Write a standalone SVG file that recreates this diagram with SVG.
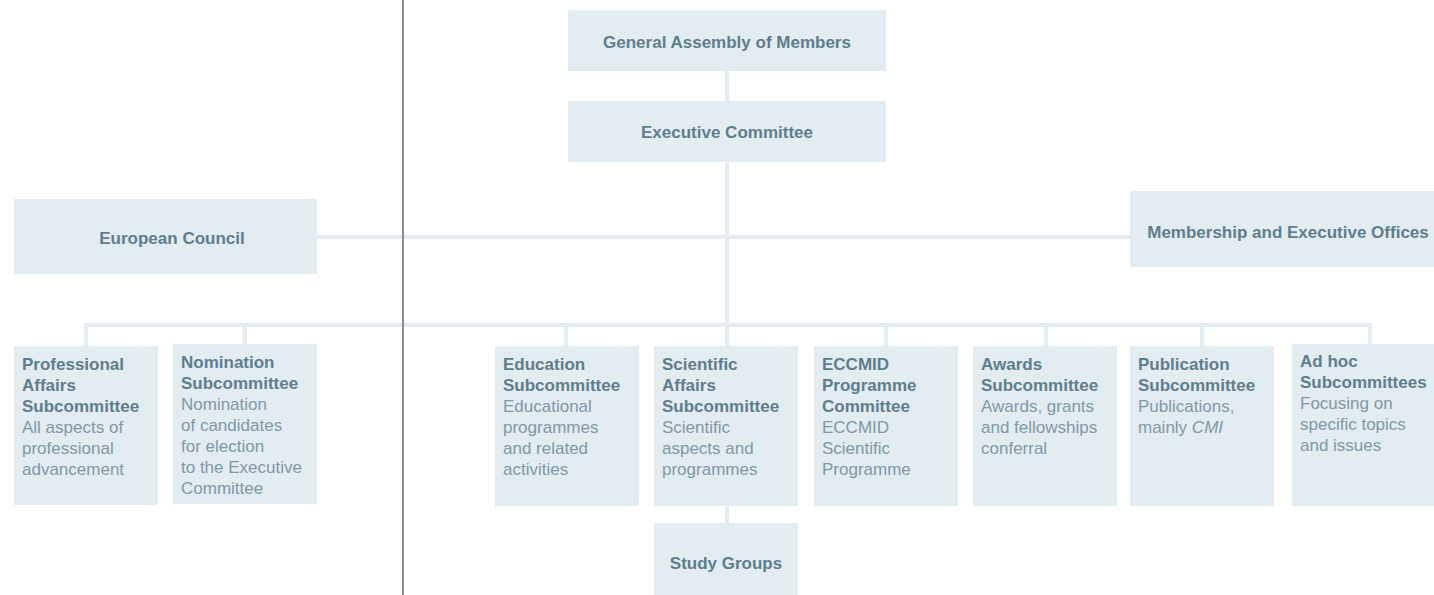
<svg xmlns="http://www.w3.org/2000/svg" width="1434" height="595" viewBox="0 0 1434 595">
<style>
.box{fill:#e3ecf1}
.ln{stroke:#e3ecf1;stroke-width:4;fill:none}
.div{stroke:#8c8c8c;stroke-width:2}
text{font-family:"Liberation Sans",Arial,sans-serif;font-size:17px}
.t{font-weight:bold;fill:#5e7e8d}
.c{text-anchor:middle}
.d{fill:#7f99a6}
</style>
<rect width="1434" height="595" fill="#ffffff"/>
<g id="connectors">
<line class="ln" x1="727" y1="71" x2="727" y2="101"/>
<line class="ln" x1="727" y1="162" x2="727" y2="325"/>
<line class="ln" x1="317" y1="237" x2="1130" y2="237"/>
<line class="ln" x1="84" y1="325" x2="1372" y2="325"/>
<line class="ln" x1="86" y1="323" x2="86" y2="346"/>
<line class="ln" x1="245" y1="323" x2="245" y2="344"/>
<line class="ln" x1="566" y1="323" x2="566" y2="346"/>
<line class="ln" x1="727" y1="323" x2="727" y2="346"/>
<line class="ln" x1="886" y1="323" x2="886" y2="346"/>
<line class="ln" x1="1046" y1="323" x2="1046" y2="346"/>
<line class="ln" x1="1202" y1="323" x2="1202" y2="346"/>
<line class="ln" x1="1370" y1="323" x2="1370" y2="344"/>
<line class="ln" x1="727" y1="506" x2="727" y2="523"/>
</g>
<line class="div" x1="403" y1="0" x2="403" y2="595"/>
<g id="general-assembly">
<rect class="box" x="568" y="10" width="318" height="61"/>
<text class="t c" x="727" y="48">General Assembly of Members</text>
</g>
<g id="executive-committee">
<rect class="box" x="568" y="101" width="318" height="61"/>
<text class="t c" x="727" y="138">Executive Committee</text>
</g>
<g id="european-council">
<rect class="box" x="14" y="199" width="303" height="75"/>
<text class="t c" x="172" y="244">European Council</text>
</g>
<g id="membership">
<rect class="box" x="1130" y="191" width="304" height="76"/>
<text class="t c" x="1288" y="238">Membership and Executive Offices</text>
</g>
<g id="professional-affairs">
<rect class="box" x="14" y="346" width="144" height="159"/>
<text x="22" y="370"><tspan class="t">Professional</tspan><tspan class="t" x="22" dy="21">Affairs</tspan><tspan class="t" x="22" dy="21">Subcommittee</tspan><tspan class="d" x="22" dy="21">All aspects of</tspan><tspan class="d" x="22" dy="21">professional</tspan><tspan class="d" x="22" dy="21">advancement</tspan></text>
</g>
<g id="nomination">
<rect class="box" x="173" y="344" width="144" height="160"/>
<text x="181" y="368"><tspan class="t">Nomination</tspan><tspan class="t" x="181" dy="21">Subcommittee</tspan><tspan class="d" x="181" dy="21">Nomination</tspan><tspan class="d" x="181" dy="21">of candidates</tspan><tspan class="d" x="181" dy="21">for election</tspan><tspan class="d" x="181" dy="21">to the Executive</tspan><tspan class="d" x="181" dy="21">Committee</tspan></text>
</g>
<g id="education">
<rect class="box" x="495" y="346" width="144" height="160"/>
<text x="503" y="370"><tspan class="t">Education</tspan><tspan class="t" x="503" dy="21">Subcommittee</tspan><tspan class="d" x="503" dy="21">Educational</tspan><tspan class="d" x="503" dy="21">programmes</tspan><tspan class="d" x="503" dy="21">and related</tspan><tspan class="d" x="503" dy="21">activities</tspan></text>
</g>
<g id="scientific-affairs">
<rect class="box" x="654" y="346" width="144" height="160"/>
<text x="662" y="370"><tspan class="t">Scientific</tspan><tspan class="t" x="662" dy="21">Affairs</tspan><tspan class="t" x="662" dy="21">Subcommittee</tspan><tspan class="d" x="662" dy="21">Scientific</tspan><tspan class="d" x="662" dy="21">aspects and</tspan><tspan class="d" x="662" dy="21">programmes</tspan></text>
</g>
<g id="eccmid">
<rect class="box" x="814" y="346" width="144" height="160"/>
<text x="822" y="370"><tspan class="t">ECCMID</tspan><tspan class="t" x="822" dy="21">Programme</tspan><tspan class="t" x="822" dy="21">Committee</tspan><tspan class="d" x="822" dy="21">ECCMID</tspan><tspan class="d" x="822" dy="21">Scientific</tspan><tspan class="d" x="822" dy="21">Programme</tspan></text>
</g>
<g id="awards">
<rect class="box" x="973" y="346" width="144" height="160"/>
<text x="981" y="370"><tspan class="t">Awards</tspan><tspan class="t" x="981" dy="21">Subcommittee</tspan><tspan class="d" x="981" dy="21">Awards, grants</tspan><tspan class="d" x="981" dy="21">and fellowships</tspan><tspan class="d" x="981" dy="21">conferral</tspan></text>
</g>
<g id="publication">
<rect class="box" x="1130" y="346" width="144" height="160"/>
<text x="1138" y="370"><tspan class="t">Publication</tspan><tspan class="t" x="1138" dy="21">Subcommittee</tspan><tspan class="d" x="1138" dy="21">Publications,</tspan><tspan class="d" x="1138" dy="21">mainly <tspan font-style="italic">CMI</tspan></tspan></text>
</g>
<g id="ad-hoc">
<rect class="box" x="1292" y="344" width="142" height="162"/>
<text x="1300" y="367"><tspan class="t">Ad hoc</tspan><tspan class="t" x="1300" dy="21">Subcommittees</tspan><tspan class="d" x="1300" dy="21">Focusing on</tspan><tspan class="d" x="1300" dy="21">specific topics</tspan><tspan class="d" x="1300" dy="21">and issues</tspan></text>
</g>
<g id="study-groups">
<rect class="box" x="654" y="523" width="144" height="72"/>
<text class="t c" x="726" y="569">Study Groups</text>
</g>
</svg>
